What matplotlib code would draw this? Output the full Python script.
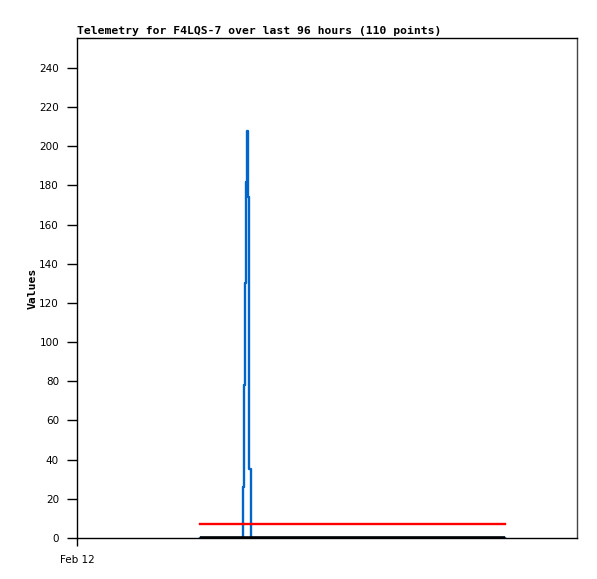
import matplotlib
matplotlib.use("Agg")
import matplotlib.pyplot as plt

# Data (hours since Feb 12 00:00)
hours_blue = [23.6, 31.78, 32.06, 32.26, 32.45, 32.6, 32.77, 32.95, 33.12, 33.38, 82.2]
values_blue = [0, 26, 78, 130, 182, 208, 174, 104, 35, 0, 0]
hours_red = [23.6, 82.2]
values_red = [7, 7]
hours_black = [23.6, 82.2]
values_black = [0, 0]
yticks = list(range(0, 241, 20))
xtick_pos = [0]
xtick_labels = ["Feb 12"]

fig = plt.figure(figsize=(5.97, 5.79), dpi=100)
ax = fig.add_axes([77/597, 1-538/579, 500/597, 500/579])

ax.plot(hours_blue, values_blue, color="#0066cc", lw=1.7, drawstyle="steps-post")
ax.plot(hours_red, values_red, color="#ff0000", lw=1.7)
ax.plot(hours_black, values_black, color="#000000", lw=2.6, solid_capstyle="butt")

ax.set_xlim(0, 96)
ax.set_ylim(0, 255.3)
ax.set_yticks(yticks)
ax.set_yticklabels([str(v) for v in yticks])
ax.set_xticks(xtick_pos)
ax.set_xticklabels(xtick_labels)
ax.tick_params(axis="y", direction="out", length=7, width=1, labelsize=7.5, pad=6)
ax.tick_params(axis="x", direction="out", length=6, width=1, labelsize=7.5, pad=6)

for s in ["left", "bottom", "top"]:
    ax.spines[s].set_color("black")
    ax.spines[s].set_linewidth(1)
ax.spines["right"].set_color("#444444")
ax.spines["right"].set_linewidth(1)

ax.set_ylabel("Values", family="DejaVu Sans Mono", fontweight="bold", fontsize=8.2, labelpad=1)
ax.set_title("Telemetry for F4LQS-7 over last 96 hours (110 points)", loc="left",
             family="DejaVu Sans Mono", fontweight="bold", fontsize=8.2, pad=3)

fig.savefig("out.png", dpi=100)
